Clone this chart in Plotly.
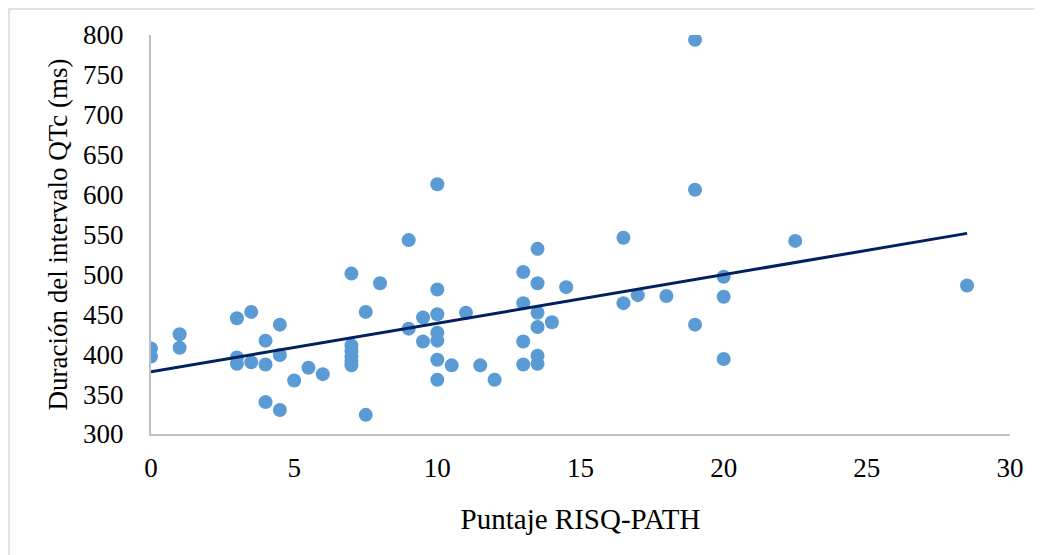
import numpy as np
import plotly.graph_objects as go

# Data
risq_path = [0, 0, 1, 1, 3, 3, 3, 3.5, 3.5, 4, 4, 4, 4.5, 4.5, 4.5, 5, 5.5, 6,
             7, 7, 7, 7, 7, 7, 7.5, 7.5, 8, 9, 9, 9.5, 9.5,
             10, 10, 10, 10, 10, 10, 10, 10.5, 11, 11.5, 12,
             13, 13, 13, 13, 13.5, 13.5, 13.5, 13.5, 13.5, 13.5, 14, 14.5,
             16.5, 16.5, 17, 18, 19, 19, 19, 20, 20, 20, 22.5, 28.5]
qtc_ms = [407, 397, 425, 408, 445, 396, 388, 453, 390, 417, 387, 340, 437, 399, 330, 367, 383, 375,
          501, 411, 404, 397, 391, 386, 453, 324, 489, 543, 432, 446, 416,
          613, 481, 450, 427, 417, 393, 368, 386, 452, 386, 368,
          503, 464, 416, 387, 532, 489, 452, 434, 398, 388, 440, 484,
          546, 464, 474, 473, 794, 606, 437, 497, 472, 394, 542, 486]

x_ticks = [0, 5, 10, 15, 20, 25, 30]
y_ticks = [300, 350, 400, 450, 500, 550, 600, 650, 700, 750, 800]

x_title = "Puntaje RISQ-PATH"
y_title = "Duración del intervalo QTc (ms)"

# Linear trendline fitted to the data
slope, intercept = np.polyfit(risq_path, qtc_ms, 1)
trend_x = [min(risq_path), max(risq_path)]
trend_y = [intercept + slope * v for v in trend_x]

font_family = "Liberation Serif, Times New Roman, serif"

fig = go.Figure()
fig.add_trace(go.Scatter(
    x=risq_path, y=qtc_ms, mode="markers",
    marker=dict(size=14, color="#5b9bd5", line=dict(width=0)),
    showlegend=False, hoverinfo="x+y",
))
fig.add_trace(go.Scatter(
    x=trend_x, y=trend_y, mode="lines",
    line=dict(color="#002060", width=3),
    showlegend=False, hoverinfo="skip",
))

fig.update_layout(
    width=1042, height=555,
    margin=dict(l=143, r=40, t=27, b=129),
    paper_bgcolor="white", plot_bgcolor="white",
    font=dict(family=font_family, size=27, color="black"),
    xaxis=dict(
        range=[0, 30], tickvals=x_ticks, ticktext=[str(v) for v in x_ticks],
        showgrid=False, zeroline=False, showline=True, linecolor="#bfbfbf", linewidth=2,
        ticks="", ticklen=0, tickfont=dict(size=27), automargin=False,
        ticklabelstandoff=9,
        title=dict(text=x_title, font=dict(size=29), standoff=26),
    ),
    yaxis=dict(
        range=[300, 800], tickvals=y_ticks, ticktext=[str(v) for v in y_ticks],
        showgrid=False, zeroline=False, showline=True, linecolor="#bfbfbf", linewidth=2,
        ticks="", ticklen=0, tickfont=dict(size=27), automargin=False,
        ticklabelstandoff=20,
        title=dict(text=y_title, font=dict(size=27), standoff=8),
    ),
    shapes=[dict(
        type="rect", xref="paper", yref="paper",
        x0=(9 - 151) / 859, x1=(1080 - 151) / 859,
        y0=(434 - 590) / 399, y1=(434 - 9) / 399,
        line=dict(color="#d9d9d9", width=1.5), fillcolor="rgba(0,0,0,0)", layer="below",
    )],
)

fig.write_html("out.html")
